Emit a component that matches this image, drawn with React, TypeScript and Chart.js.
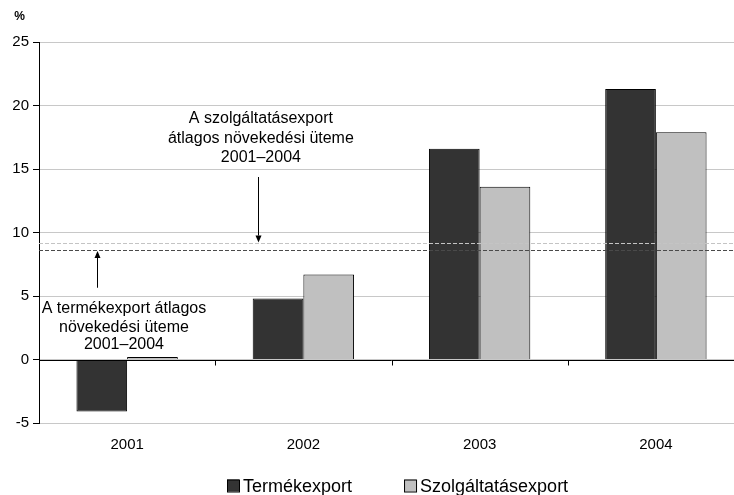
import React, { useEffect, useRef } from 'react';
import { Chart, registerables } from 'chart.js';

Chart.register(...registerables);

const categories = ['2001', '2002', '2003', '2004'];
const seriesNames = ['Termékexport', 'Szolgáltatásexport'];
const termekexport = [-4.1, 4.8, 16.6, 21.3];
const szolgaltatasexport = [0.2, 6.7, 13.6, 17.9];
const averageTermek = 8.65;
const averageSzolg = 9.2;
const yMin = -5;
const yMax = 25;
const yStep = 5;
const unitLabel = '%';
const noteSzolg = ['A szolgáltatásexport', 'átlagos növekedési üteme', '2001–2004'];
const noteTermek = ['A termékexport átlagos', 'növekedési üteme', '2001–2004'];

const FONT = '"Liberation Sans", Arial, Helvetica, sans-serif';
const DARK = '#333333';
const LIGHT = '#c0c0c0';

function drawArrow(ctx: CanvasRenderingContext2D, x: number, yFrom: number, yTo: number) {
  const dir = yTo > yFrom ? 1 : -1;
  const head = 7;
  ctx.beginPath();
  ctx.moveTo(x, yFrom);
  ctx.lineTo(x, yTo - dir * head);
  ctx.stroke();
  ctx.beginPath();
  ctx.moveTo(x, yTo);
  ctx.lineTo(x - 3, yTo - dir * head);
  ctx.lineTo(x + 3, yTo - dir * head);
  ctx.closePath();
  ctx.fill();
}

const overlayPlugin = {
  id: 'overlay',
  afterDatasetsDraw(chart: any) {
    const { ctx, chartArea: a, scales } = chart;
    const x = scales.x;
    const y = scales.y;
    ctx.save();
    // zero axis with category ticks
    const y0 = Math.round(y.getPixelForValue(0)) + 0.5;
    ctx.strokeStyle = '#000';
    ctx.lineWidth = 1;
    ctx.setLineDash([]);
    ctx.beginPath();
    ctx.moveTo(a.left, y0);
    ctx.lineTo(a.right, y0);
    for (let i = 0; i < categories.length; i++) {
      const px = Math.round(x.getPixelForValue(i + 0.5)) + 0.5;
      ctx.moveTo(px, y0);
      ctx.lineTo(px, y0 + 5);
    }
    ctx.stroke();

    // average lines
    const ys = Math.round(y.getPixelForValue(averageSzolg)) + 0.5;
    ctx.strokeStyle = '#c4c4c4';
    ctx.setLineDash([4, 2]);
    ctx.beginPath();
    ctx.moveTo(a.left, ys);
    ctx.lineTo(a.right, ys);
    ctx.stroke();
    const yt = Math.round(y.getPixelForValue(averageTermek)) + 0.5;
    ctx.strokeStyle = '#4a4a4a';
    ctx.beginPath();
    ctx.moveTo(a.left, yt);
    ctx.lineTo(a.right, yt);
    ctx.stroke();
    ctx.setLineDash([]);

    // arrows
    ctx.strokeStyle = '#000';
    ctx.fillStyle = '#000';
    const xs = Math.round(x.getPixelForValue(0.742)) + 0.5;
    drawArrow(ctx, xs, y.getPixelForValue(14.37), ys - 1);
    const xt = Math.round(x.getPixelForValue(-0.171)) + 0.5;
    drawArrow(ctx, xt, y.getPixelForValue(5.65), yt + 0.5);

    // notes
    ctx.font = `16px ${FONT}`;
    ctx.textAlign = 'center';
    ctx.textBaseline = 'middle';
    const xsText = x.getPixelForValue(0.759);
    const sVals = [18.94, 17.36, 15.92];
    noteSzolg.forEach((t, i) => ctx.fillText(t, xsText, y.getPixelForValue(sVals[i])));
    const xtText = x.getPixelForValue(-0.018);
    const tVals = [4.03, 2.54, 1.14];
    noteTermek.forEach((t, i) => ctx.fillText(t, xtText, y.getPixelForValue(tVals[i])));

    // unit label
    ctx.font = `bold 12px ${FONT}`;
    ctx.fillText(unitLabel, a.left - 19.5, a.top - 25.5);

    // legend
    ctx.font = `18px ${FONT}`;
    ctx.textAlign = 'left';
    ctx.textBaseline = 'alphabetic';
    const boxTop = 479.5;
    let lx = a.left + 188;
    chart.data.datasets.forEach((ds: any) => {
      ctx.fillStyle = ds.backgroundColor;
      ctx.fillRect(lx, boxTop, 12, 12);
      ctx.strokeStyle = '#000';
      ctx.strokeRect(lx + 0.5, boxTop + 0.5, 12, 12);
      ctx.fillStyle = '#000';
      ctx.fillText(ds.label, lx + 16, 492);
      lx += 16 + ctx.measureText(ds.label).width + 52;
    });
    ctx.restore();
  },
};

export default function App() {
  const ref = useRef<HTMLCanvasElement>(null);
  useEffect(() => {
    if (!ref.current) return;
    const chart = new Chart(ref.current, {
      type: 'bar',
      data: {
        labels: categories,
        datasets: [
          {
            label: seriesNames[0],
            data: termekexport,
            backgroundColor: DARK,
            borderColor: '#000',
            borderWidth: 1,
            categoryPercentage: 0.575,
            barPercentage: 1,
          },
          {
            label: seriesNames[1],
            data: szolgaltatasexport,
            backgroundColor: LIGHT,
            borderColor: '#000',
            borderWidth: 1,
            categoryPercentage: 0.575,
            barPercentage: 1,
          },
        ],
      },
      options: {
        animation: false,
        responsive: false,
        maintainAspectRatio: false,
        layout: { padding: { top: 42, left: 0, right: 0, bottom: 44 } },
        plugins: {
          legend: { display: false },
          tooltip: { enabled: false },
        },
        scales: {
          x: {
            grid: { display: false, drawTicks: false },
            border: { display: false },
            ticks: { color: '#000', font: { family: FONT, size: 15 }, padding: 13 },
            afterFit: (s: any) => { s.height = 28; },
          },
          y: {
            min: yMin,
            max: yMax,
            ticks: { stepSize: yStep, color: '#000', font: { family: FONT, size: 15 }, padding: 4 },
            grid: { color: '#c8c8c8', tickColor: '#000', tickLength: 6, lineWidth: 1 },
            border: { display: true, color: '#000', width: 1 },
            afterFit: (s: any) => { s.width = 39; },
          },
        },
      },
      plugins: [overlayPlugin],
    });
    return () => chart.destroy();
  }, []);
  return (
    <div style={{ position: 'fixed', left: 0, top: 0, width: 734, height: 495, background: '#fff', overflow: 'hidden' }}>
      <canvas ref={ref} width={744} height={495} style={{ width: 744, height: 495 }} />
    </div>
  );
}
